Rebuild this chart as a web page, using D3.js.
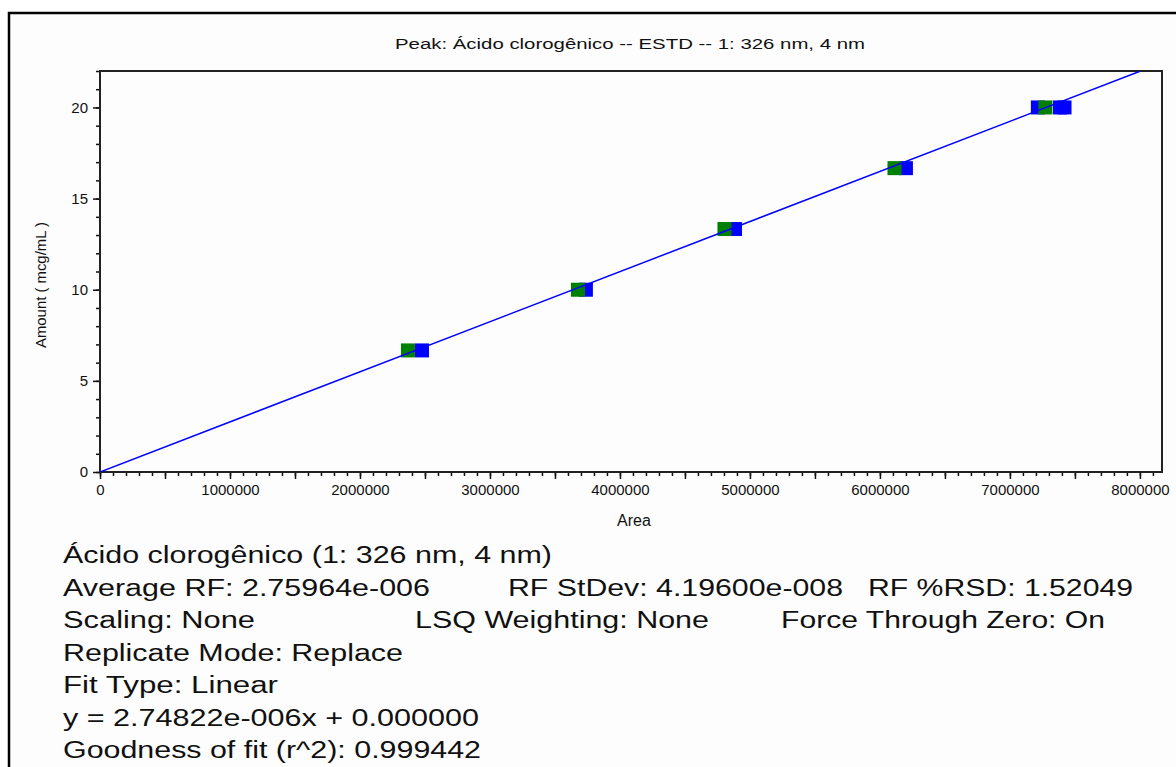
<!DOCTYPE html>
<html>
<head>
<meta charset="utf-8">
<script src="https://cdn.jsdelivr.net/npm/d3@7"></script>
<style>
  html, body { margin: 0; padding: 0; background: #fff; }
  svg { display: block; font-family: Arial, "Liberation Sans", sans-serif; }
</style>
</head>
<body>
<svg id="chart" width="1176" height="767"></svg>
<script>
// Calibration standards: area vs amount (mcg/mL)
const greenAreas   = [2369000, 3677000, 4804000, 6112000, 7273000];
const greenAmounts = [6.67, 10.0, 13.33, 16.67, 20.0];
const blueAreas    = [2477000, 3738000, 4885000, 6200000, 7215000, 7385000, 7420000];
const blueAmounts  = [6.67, 10.0, 13.33, 16.67, 20.0, 20.0, 20.0];

// Fitted line, forced through zero
const slope = 2.74822e-006;
const intercept = 0.0;

const xDomain = [0, 8170000];
const yDomain = [0, 22];
const xLabelTicks = [0, 1000000, 2000000, 3000000, 4000000, 5000000, 6000000, 7000000, 8000000];
const yLabelTicks = [0, 5, 10, 15, 20];

const titleText = "Peak: Ácido clorogênico -- ESTD -- 1: 326 nm, 4 nm";
const xTitle = "Area";
const yTitle = "Amount ( mcg/mL )";

const infoLines = [
  [["Ácido clorogênico (1: 326 nm, 4 nm)", 63, 489]],
  [["Average RF: 2.75964e-006", 63, 367], ["RF StDev: 4.19600e-008", 508, 335], ["RF %RSD: 1.52049", 868, 265]],
  [["Scaling: None", 63, 192], ["LSQ Weighting: None", 415, 294], ["Force Through Zero: On", 781, 324]],
  [["Replicate Mode: Replace", 63, 340]],
  [["Fit Type: Linear", 63, 215]],
  [["y = 2.74822e-006x + 0.000000", 63, 416]],
  [["Goodness of fit (r^2): 0.999442", 63, 418]]
];

const svg = d3.select("#chart");
const plot = { left: 100, right: 1162, top: 71, bottom: 472 };
const font = "Arial, 'Liberation Sans', sans-serif";

// outer frame (runs past the right and bottom edges of the view)
svg.append("rect")
  .attr("x", 9).attr("y", 13).attr("width", 1200).attr("height", 800)
  .attr("fill", "#fdfdfd").attr("stroke", "#000").attr("stroke-width", 2.5);

const x = d3.scaleLinear().domain(xDomain).range([plot.left, plot.right]);
const y = d3.scaleLinear().domain(yDomain).range([plot.bottom, plot.top]);

// title
svg.append("text")
  .attr("x", 630).attr("y", 49)
  .attr("text-anchor", "middle")
  .attr("font-size", 15.5)
  .attr("fill", "#111")
  .attr("textLength", 470).attr("lengthAdjust", "spacingAndGlyphs")
  .text(titleText);

// clip for the fit line
svg.append("clipPath").attr("id", "plotclip")
  .append("rect")
  .attr("x", plot.left).attr("y", plot.top)
  .attr("width", plot.right - plot.left).attr("height", plot.bottom - plot.top);

// x axis: minor ticks every 100000, major every 500000, labels every 1000000
const xMinor = d3.range(0, 8100001, 100000);
const xMajor = d3.range(0, 8000001, 500000);
svg.append("g")
  .attr("transform", `translate(0,${plot.bottom})`)
  .call(d3.axisBottom(x).tickValues(xMinor).tickSize(4).tickFormat(""))
  .call(g => g.select(".domain").remove())
  .call(g => g.selectAll("line").attr("stroke", "#111").attr("stroke-width", 1.5));
svg.append("g")
  .attr("transform", `translate(0,${plot.bottom})`)
  .call(d3.axisBottom(x).tickValues(xMajor).tickSize(7).tickFormat(""))
  .call(g => g.select(".domain").remove())
  .call(g => g.selectAll("line").attr("stroke", "#111").attr("stroke-width", 1.5));
svg.append("g")
  .attr("transform", `translate(0,${plot.bottom})`)
  .call(d3.axisBottom(x).tickValues(xLabelTicks).tickSize(0).tickPadding(12).tickFormat(d3.format("d")))
  .call(g => g.select(".domain").remove())
  .call(g => g.selectAll("text").attr("font-size", 15).attr("fill", "#111")
    .attr("font-family", font));

// y axis: minor ticks every 1, labels every 5
const yMinor = d3.range(0, 23, 1);
svg.append("g")
  .attr("transform", `translate(${plot.left},0)`)
  .call(d3.axisLeft(y).tickValues(yMinor).tickSize(4).tickFormat(""))
  .call(g => g.select(".domain").remove())
  .call(g => g.selectAll("line").attr("stroke", "#111").attr("stroke-width", 1.5));
svg.append("g")
  .attr("transform", `translate(${plot.left},0)`)
  .call(d3.axisLeft(y).tickValues(yLabelTicks).tickSize(7).tickPadding(5).tickFormat(d3.format("d")))
  .call(g => g.select(".domain").remove())
  .call(g => g.selectAll("line").attr("stroke", "#111").attr("stroke-width", 1.5))
  .call(g => g.selectAll("text").attr("font-size", 15).attr("fill", "#111")
    .attr("font-family", font));

// plot frame
svg.append("rect")
  .attr("x", plot.left).attr("y", plot.top)
  .attr("width", plot.right - plot.left).attr("height", plot.bottom - plot.top)
  .attr("fill", "none").attr("stroke", "#222").attr("stroke-width", 2);

// axis titles
svg.append("text")
  .attr("x", 634).attr("y", 526)
  .attr("text-anchor", "middle").attr("font-size", 16).attr("fill", "#111")
  .text(xTitle);
svg.append("text")
  .attr("transform", `translate(46,285) rotate(-90)`)
  .attr("text-anchor", "middle").attr("font-size", 15).attr("fill", "#111")
  .attr("textLength", 126).attr("lengthAdjust", "spacingAndGlyphs")
  .text(yTitle);

// calibration points: blue first, green on top
const sq = 14;
svg.append("g").selectAll("rect")
  .data(blueAreas.map((a, i) => [a, blueAmounts[i]]))
  .join("rect")
  .attr("x", d => x(d[0]) - sq / 2).attr("y", d => y(d[1]) - sq / 2)
  .attr("width", sq).attr("height", sq)
  .attr("fill", "#0000ff");
svg.append("g").selectAll("rect")
  .data(greenAreas.map((a, i) => [a, greenAmounts[i]]))
  .join("rect")
  .attr("x", d => x(d[0]) - sq / 2).attr("y", d => y(d[1]) - sq / 2)
  .attr("width", sq).attr("height", sq)
  .attr("fill", "#008000");

// fit line
const xEnd = (yDomain[1] - intercept) / slope;
svg.append("line")
  .attr("clip-path", "url(#plotclip)")
  .attr("x1", x(0)).attr("y1", y(intercept))
  .attr("x2", x(xEnd)).attr("y2", y(slope * xEnd + intercept))
  .attr("stroke", "#0000ff").attr("stroke-width", 1.5);

// calibration summary
const baseY = 563, lineGap = 32.5;
infoLines.forEach((row, i) => {
  row.forEach(([txt, tx, len]) => {
    svg.append("text")
      .attr("x", tx).attr("y", baseY + i * lineGap)
      .attr("font-size", 23)
      .attr("fill", "#111")
      .attr("textLength", len).attr("lengthAdjust", "spacingAndGlyphs")
      .text(txt);
  });
});
</script>
</body>
</html>
